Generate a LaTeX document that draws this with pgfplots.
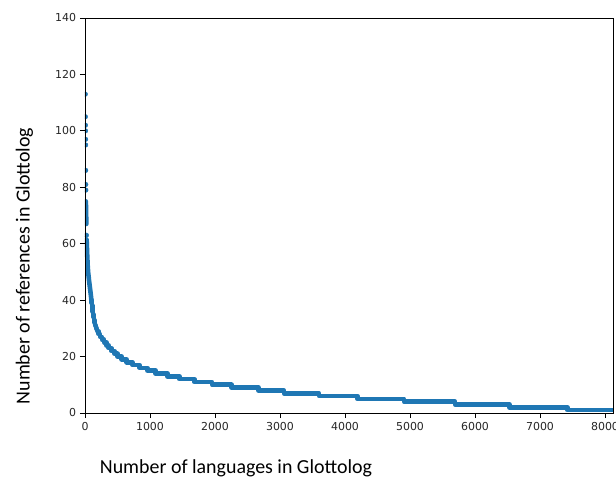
\documentclass[border=0pt]{standalone}
\usepackage{fontspec}
\setmainfont{Carlito}
\newfontfamily\tickfont{DejaVu Sans}
\usepackage{pgfplots}
\pgfplotsset{compat=1.18}
\definecolor{mplblue}{HTML}{1F77B4}

\begin{document}
\begin{tikzpicture}
\begin{axis}[
    scale only axis,
    width=528bp, height=395bp,
    xmin=0, xmax=8123,
    ymin=0, ymax=140,
    xtick={0,1000,...,8000},
    ytick={0,20,...,140},
    tick align=outside,
    tick pos=left,
    major tick length=5bp,
    axis line style={line width=0.9bp},
    every tick/.style={black, line width=0.9bp},
    axis on top,
    clip marker paths=true,
    /pgf/number format/set thousands separator={},
    /pgf/number format/assume math mode=true,
    ticklabel style={font=\tickfont\fontsize{11}{13}\selectfont, text=black!85},
    xticklabel style={yshift=-0.5bp},
    yticklabel style={xshift=-0.5bp},
    label style={font=\fontsize{20}{24}\selectfont},
    xlabel={Number of languages in Glottolog},
    ylabel={Number of references in Glottolog},
    xlabel style={at={(axis description cs:0.286,-0.154)}, anchor=base},
    ylabel style={at={(axis description cs:-0.105,0.372)}, anchor=base, rotate=0},
]

% sparse top values (rank 0..8 and 19)
\addplot[only marks, mark=*, mark size=2.3bp, color=mplblue]
    coordinates {
    (5,113)(6,105)(7,102)(8,100)(9,97)(10,95)(11,86)(12,81)(13,79)(22,63)
    };

% dense cluster just below
\addplot[color=mplblue, line width=4.6bp, line cap=round, line join=round]
    coordinates {
    (14,75)(15,73)(16,72)(18,70)(20,68)(21,67)
    };

% steep head of the curve
\addplot[color=mplblue, line width=4.6bp, line cap=round, line join=round]
    coordinates {
    (24,61.5)(28,60)(32,57)(36,55)(42,52)(48,50)(62,47)(78,44)(89,42)(98,40)
    };

% integer steps: value v starts at x
\addplot[const plot, color=mplblue, line width=4.6bp, line cap=round, line join=round]
    coordinates {
    (98,40)(103,39)(108,38)(113,37)(118,36)(123,35)(128,34)(137,33)(146,32)
    (156,31)(170,30)(187,29)(208,28)(231,27)(260,26)(295,25)(330,24)(365,23)
    (405,22)(450,21)(500,20)(565,19)(640,18)(730,17)(840,16)(960,15)(1087,14)
    (1267,13)(1451,12)(1682,11)(1955,10)(2255,9)(2667,8)(3062,7)(3600,6)
    (4190,5)(4908,4)(5692,3)(6528,2)(7420,1)(8123,1)
    };

\end{axis}
\pgfresetboundingbox
\path[use as bounding box] (-85bp,-65bp) rectangle (531bp,413bp);
\end{tikzpicture}
\end{document}
